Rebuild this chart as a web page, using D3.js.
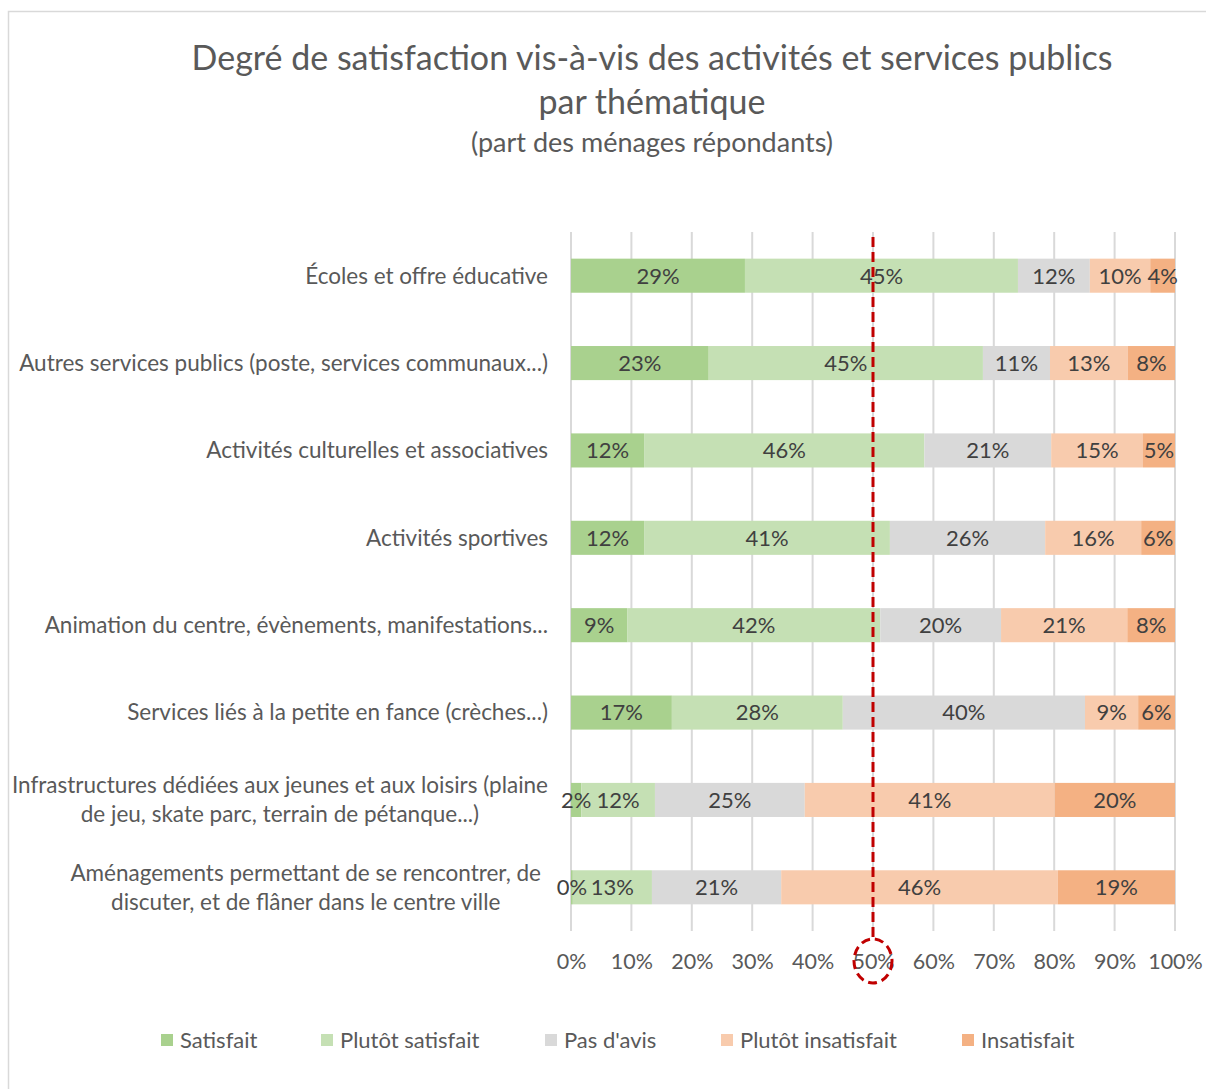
<!DOCTYPE html>
<html><head><meta charset="utf-8">
<script src="https://cdn.jsdelivr.net/npm/d3@7"></script>
<style>body{margin:0;background:#fff;} svg{display:block;font-family:Lato, "Liberation Sans", sans-serif;}</style>
</head><body>
<svg id="c" width="1206" height="1089"></svg>
<script>
const categories = [
  ["Écoles et offre éducative"],
  ["Autres services publics (poste, services communaux...)"],
  ["Activités culturelles et associatives"],
  ["Activités sportives"],
  ["Animation du centre, évènements, manifestations..."],
  ["Services liés à la petite en fance (crèches...)"],
  ["Infrastructures dédiées aux jeunes et aux loisirs (plaine", "de jeu, skate parc, terrain de pétanque...)"],
  ["Aménagements permettant de se rencontrer, de", "discuter, et de flâner dans le centre ville"]
];
const seriesNames = ["Satisfait", "Plutôt satisfait", "Pas d'avis", "Plutôt insatisfait", "Insatisfait"];
const satisfait        = [28.8, 22.8, 12.1, 12.1,  9.3, 16.7,  1.7,  0.3];
const plutotSatisfait  = [45.2, 45.4, 46.4, 40.7, 41.9, 28.3, 12.2, 13.1];
const pasDAvis         = [11.9, 11.1, 21.0, 25.7, 20.0, 40.1, 24.8, 21.4];
const plutotInsatisfait= [10.0, 12.9, 15.2, 15.9, 20.9,  8.8, 41.4, 45.8];
const insatisfait      = [ 4.1,  7.8,  5.3,  5.6,  7.9,  6.1, 19.9, 19.4];
const tickValues = [0, 10, 20, 30, 40, 50, 60, 70, 80, 90, 100];
const colors = ["#a9d18e", "#c5e0b4", "#d9d9d9", "#f8cbad", "#f4b183"];

const svg = d3.select("#c");
// frame
svg.append("rect").attr("x", 8.5).attr("y", 11.5).attr("width", 1230).attr("height", 1100)
  .attr("fill", "none").attr("stroke", "#d9d9d9").attr("stroke-width", 1.5);

// title
const t = svg.append("g").attr("fill", "#595959").attr("text-anchor", "middle");
t.append("text").attr("x", 652).attr("y", 70).attr("font-size", 34).text("Degré de satisfaction vis-à-vis des activités et services publics");
t.append("text").attr("x", 652).attr("y", 114).attr("font-size", 34).text("par thématique");
t.append("text").attr("x", 652).attr("y", 152).attr("font-size", 27).text("(part des ménages répondants)");

const keys = seriesNames;
const rows = categories.map((c, i) => ({
  idx: i,
  "Satisfait": satisfait[i], "Plutôt satisfait": plutotSatisfait[i], "Pas d'avis": pasDAvis[i],
  "Plutôt insatisfait": plutotInsatisfait[i], "Insatisfait": insatisfait[i]
}));
const stack = d3.stack().keys(keys)(rows);

const x = d3.scaleLinear().domain([0, 100]).range([571, 1175]);
const y = d3.scaleBand().domain(d3.range(categories.length)).range([232, 931]).paddingInner(0.61).paddingOuter(0.305);

// gridlines
svg.append("g").selectAll("line").data(tickValues).join("line")
  .attr("x1", d => x(d)).attr("x2", d => x(d)).attr("y1", 232).attr("y2", 931)
  .attr("stroke", "#d9d9d9").attr("stroke-width", 2);

// bars
const color = d3.scaleOrdinal().domain(keys).range(colors);
const layers = svg.append("g").selectAll("g").data(stack).join("g").attr("fill", d => color(d.key));
layers.selectAll("rect").data(d => d).join("rect")
  .attr("x", d => x(d[0])).attr("width", d => x(d[1]) - x(d[0]))
  .attr("y", d => y(d.data.idx)).attr("height", y.bandwidth());

// data labels
const fmt = v => Math.round(v) + "%";
svg.append("g").attr("fill", "#404040").attr("font-size", 22).attr("text-anchor", "middle")
  .selectAll("g").data(stack).join("g")
  .selectAll("text").data(d => d).join("text")
  .attr("x", d => (x(d[0]) + x(d[1])) / 2)
  .attr("y", d => y(d.data.idx) + y.bandwidth() / 2)
  .attr("dy", "0.36em")
  .text(d => fmt(d[1] - d[0]));

// category labels
const cl = svg.append("g").attr("fill", "#595959").attr("font-size", 22.5);
categories.forEach((lines, i) => {
  const cy = y(i) + y.bandwidth() / 2;
  if (lines.length === 1) {
    cl.append("text").attr("x", 548).attr("y", cy).attr("dy", "0.35em").attr("text-anchor", "end").text(lines[0]);
  } else {
    const g = cl.append("g");
    const texts = lines.map((l, k) => g.append("text").attr("y", cy + (k - (lines.length - 1) / 2) * 29).attr("dy", "0.35em").attr("text-anchor", "middle").text(l));
    const w = d3.max(texts, tt => tt.node().getComputedTextLength());
    const right = i === 7 ? 541 : 548;
    texts.forEach(tt => tt.attr("x", right - w / 2));
  }
});

// x axis labels
const xAxis = d3.axisBottom(x).tickValues(tickValues).tickFormat(d => d + "%").tickSize(0).tickPadding(0);
const ax = svg.append("g").attr("transform", "translate(0,954)").call(xAxis);
ax.select(".domain").remove();
ax.selectAll("text").attr("font-size", 21.5).attr("fill", "#595959").attr("font-family", "Lato, sans-serif");

// red dashed 50% line and circle
svg.append("line").attr("x1", x(50)).attr("x2", x(50)).attr("y1", 237).attr("y2", 937)
  .attr("stroke", "#c00000").attr("stroke-width", 3).attr("stroke-dasharray", "10,5");
svg.append("ellipse").attr("cx", x(50)).attr("cy", 961).attr("rx", 19).attr("ry", 22)
  .attr("fill", "none").attr("stroke", "#c00000").attr("stroke-width", 3).attr("stroke-dasharray", "9,5");

// legend
const legX = [161, 321, 545, 721, 962];
const lg = svg.append("g").attr("font-size", 22).attr("fill", "#595959");
keys.forEach((k, i) => {
  lg.append("rect").attr("x", legX[i]).attr("y", 1034).attr("width", 12).attr("height", 12).attr("fill", colors[i]);
  lg.append("text").attr("x", legX[i] + 19).attr("y", 1040).attr("dy", "0.35em").text(k);
});
</script>
</body></html>
